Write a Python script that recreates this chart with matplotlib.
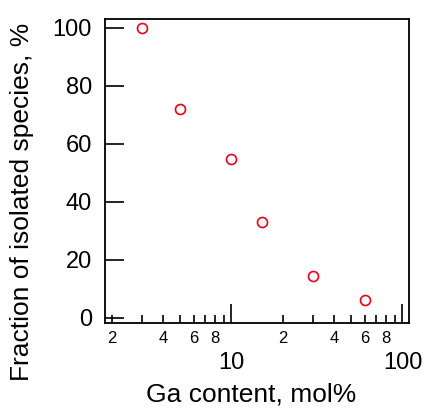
import matplotlib
matplotlib.use("Agg")
import matplotlib.pyplot as plt
from matplotlib.ticker import FixedLocator, FuncFormatter

# data
ga_content = [3, 5, 10, 15, 30, 60]           # mol%
isolated_fraction = [100, 72, 54.7, 33, 14.4, 6.1]  # %

minor_ticks = [2, 3, 4, 5, 6, 7, 8, 9, 20, 30, 40, 50, 60, 70, 80, 90]
minor_labelled = [2, 4, 6, 8, 20, 40, 60, 80]

plt.rcParams["font.family"] = ["Liberation Sans", "DejaVu Sans"]

fig = plt.figure(figsize=(4.25, 4.08), dpi=100)
ax = fig.add_axes([0.247, 0.208, 0.715, 0.745])

ax.plot(ga_content, isolated_fraction, linestyle="none", marker="o",
        markersize=7.2, markerfacecolor="none", markeredgecolor="#e8001c",
        markeredgewidth=1.2)

ax.set_xscale("log")
ax.set_xlim(1.82, 109)
ax.set_ylim(-1.8, 103)

ax.set_yticks([0, 20, 40, 60, 80, 100])
ax.xaxis.set_major_locator(FixedLocator([10, 100]))
ax.xaxis.set_minor_locator(FixedLocator(minor_ticks))
ax.xaxis.set_major_formatter(FuncFormatter(lambda v, p: f"{v:g}"))


def minor_fmt(v, pos):
    if round(v) in minor_labelled:
        return str(int(round(v)) // (10 if v >= 10 else 1))
    return ""


ax.xaxis.set_minor_formatter(FuncFormatter(minor_fmt))

ax.tick_params(axis="y", which="major", direction="in", length=13.5,
               width=1.2, labelsize=17, pad=9.5, right=False)
ax.tick_params(axis="x", which="major", direction="in", length=13.5,
               width=1.2, labelsize=17, pad=21, top=False)
ax.tick_params(axis="x", which="minor", direction="in", length=6,
               width=1.2, labelsize=12, pad=6, top=False)

for s in ax.spines.values():
    s.set_linewidth(1.3)

ax.set_xlabel("Ga content, mol%", fontsize=19)
ax.xaxis.set_label_coords(0.48, -0.195)
ax.set_ylabel("Fraction of isolated species, %", fontsize=19)
ax.yaxis.set_label_coords(-0.232, 0.4)

fig.savefig("out.png", dpi=100)
